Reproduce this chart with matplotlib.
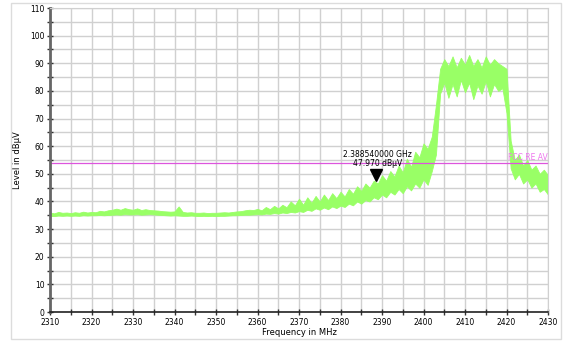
import numpy as np
import matplotlib.pyplot as plt
from matplotlib.patches import Rectangle

# spectrum envelope (MHz, dBuV)
freq = np.arange(2310, 2431, 1)
level_lo = [34.8, 34.7, 34.9, 34.8, 34.9, 34.8, 34.9, 34.8, 35.0, 34.9,
            35.0, 35.0, 35.1, 35.0, 35.1, 35.2, 35.3, 35.2, 35.4, 35.3,
            35.3, 35.4, 35.2, 35.3, 35.4, 35.3, 35.2, 35.1, 35.0, 34.9,
            35.0, 34.9, 34.8, 34.8, 34.9, 34.8, 34.7, 34.8, 34.7, 34.8,
            34.7, 34.8, 34.8, 34.9, 35.0, 35.0, 35.1, 35.2, 35.2, 35.3,
            35.4, 35.3, 35.6, 35.5, 35.8, 35.6, 36.0, 35.8, 36.2, 36.0,
            36.5, 36.2, 37.0, 36.6, 37.5, 37.0, 37.8, 37.2, 38.2, 37.6,
            38.5, 38.0, 39.2, 38.6, 40.0, 39.2, 40.5, 40.0, 41.5, 40.8,
            42.5, 41.5, 43.5, 42.5, 44.5, 43.0, 45.5, 44.0, 46.5, 45.0,
            48.0, 46.0, 51.0, 57.0, 79.0, 83.0, 77.5, 82.5, 78.0, 84.0,
            79.5, 83.0, 77.0, 82.0, 79.0, 83.5, 78.0, 82.5, 80.0, 81.0,
            72.0, 52.0, 48.0, 50.0, 46.5, 48.0, 45.0, 46.5, 43.5, 44.5,
            42.5]
level_hi = [36.0, 35.7, 36.2, 35.9, 36.0, 35.8, 36.1, 35.9, 36.3, 36.0,
            36.2, 36.1, 36.6, 36.4, 36.8, 37.0, 37.4, 37.0, 37.6, 37.2,
            37.0, 37.5, 36.9, 37.2, 36.9, 36.8, 36.7, 36.5, 36.4, 36.3,
            36.4, 38.2, 36.2, 36.0, 36.1, 35.9, 35.9, 36.0, 35.8, 35.9,
            35.9, 36.0, 36.1, 36.0, 36.2, 36.4, 36.5, 36.8, 37.0, 36.9,
            37.3, 36.8, 38.0, 37.2, 38.4, 37.5, 38.8, 37.9, 40.0, 38.6,
            41.0, 38.8, 41.5, 39.5, 42.0, 40.0, 42.5, 40.5, 43.0, 41.2,
            43.5, 41.8, 44.5, 42.8, 45.5, 43.8, 46.5, 45.0, 47.5, 46.5,
            49.5, 47.5, 51.0, 49.0, 53.0, 50.5, 55.5, 52.5, 58.0, 56.0,
            61.0, 59.0, 63.5, 75.0, 88.0, 91.5, 89.0, 92.5, 88.5, 92.0,
            89.5, 93.0, 89.0, 91.5, 88.5, 92.5, 89.5, 91.5, 90.0, 89.0,
            88.0, 62.0, 55.0, 57.0, 53.0, 55.0, 51.5, 53.0, 50.0, 51.5,
            49.5]

limit_level = 54
limit_label = 'FCC RE AV'
marker_freq = 2388.54
marker_level = 47.97

fig = plt.figure(figsize=(5.66, 3.42), dpi=100)
fig.patches.append(Rectangle((11/566, 3/342), 550/566, 336/342, transform=fig.transFigure,
                             fill=False, edgecolor='#dcdcdc', linewidth=1))
ax = fig.add_axes([50/566, 30/342, 498/566, 304/342])

ax.fill_between(freq, level_lo, level_hi, color='#99ff66', linewidth=0.6, edgecolor='#99ff66')
ax.axhline(limit_level, color='#dd55dd', linewidth=0.9)
ax.text(2430, limit_level + 0.3, limit_label, color='#ee77ee', fontsize=5.5,
        ha='right', va='bottom')

ax.plot(marker_freq, marker_level + 1.7, marker='v', color='black', markersize=8)
ax.text(marker_freq + 0.3, marker_level + 7.5, '2.388540000 GHz', fontsize=5.5, ha='center', va='bottom')
ax.text(marker_freq + 0.3, marker_level + 4.2, '47.970 dBµV', fontsize=5.5, ha='center', va='bottom')

ax.set_xlim(2310, 2430)
ax.set_ylim(0, 110)
ax.set_xticks(np.arange(2310, 2431, 10))
ax.set_xticks(np.arange(2315, 2430, 10), minor=True)
ax.set_yticks(np.arange(0, 111, 10))
ax.set_yticks(np.arange(5, 110, 10), minor=True)
ax.grid(True, which='both', color='#d0d0d0', linewidth=1)
ax.set_axisbelow(True)
ax.tick_params(which='both', direction='inout', length=4, width=1, labelsize=5.5, pad=2, color='#333333')
for s in ['top', 'right']:
    ax.spines[s].set_color('#d0d0d0')
ax.spines['left'].set_color('#666666')
ax.spines['left'].set_linewidth(2)
ax.spines['bottom'].set_color('#222222')
ax.spines['bottom'].set_linewidth(1.2)

ax.set_xlabel('Frequency in MHz', fontsize=6, labelpad=1)
ax.set_ylabel('Level in dBµV', fontsize=6, labelpad=6)

fig.savefig('out.png', dpi=100)
